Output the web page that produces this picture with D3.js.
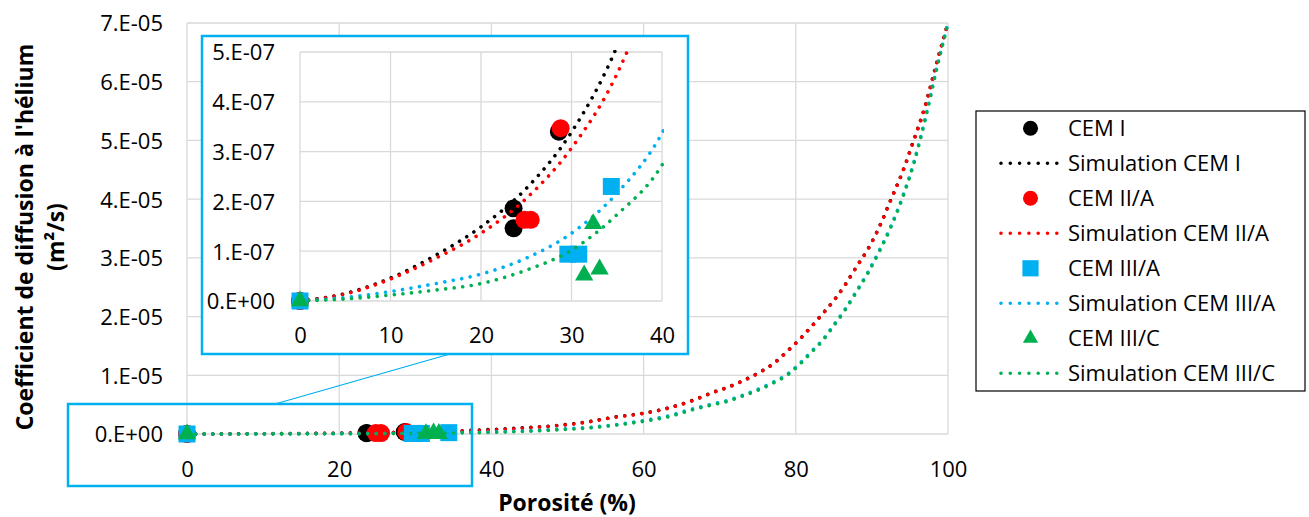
<!DOCTYPE html>
<html>
<head>
<meta charset="utf-8">
<script src="https://cdn.jsdelivr.net/npm/d3@7"></script>
<style>
  body { margin: 0; background: #fff; }
  text { font-family: 'Open Sans', sans-serif; fill: #000; }
</style>
</head>
<body>
<svg id="chart" width="1309" height="517"></svg>
<script>
// ---------- DATA ----------
const xTicksMain = [0, 20, 40, 60, 80, 100];
const yTicksMain = [0, 1e-5, 2e-5, 3e-5, 4e-5, 5e-5, 6e-5, 7e-5];
const xTicksInset = [0, 10, 20, 30, 40];
const yTicksInset = [0, 1e-7, 2e-7, 3e-7, 4e-7, 5e-7];

// Measured points (porosity %, diffusion coefficient m²/s)
const cemI_x = [0, 23.6, 23.6, 28.6];
const cemI_y = [0, 1.86e-7, 1.46e-7, 3.40e-7];
const cemIIA_x = [0, 24.8, 25.5, 28.8];
const cemIIA_y = [0, 1.63e-7, 1.63e-7, 3.47e-7];
const cemIIIA_x = [0, 29.6, 30.8, 34.4];
const cemIIIA_y = [0, 0.94e-7, 0.94e-7, 2.30e-7];
const cemIIIC_x = [0, 31.4, 32.4, 33.1];
const cemIIIC_y = [0, 0.52e-7, 1.55e-7, 0.64e-7];

// Simulations
const simPorosity = [0, 5, 10, 15, 20, 25, 30, 35, 40, 45, 49, 53, 56, 60, 63, 66.5, 69, 71, 73, 75, 77, 79, 80.5, 82, 83.5, 85, 86.5, 88, 89.5, 91, 92.5, 94, 95.5, 97, 98.5, 100];
const simCEMI =    [0, 1.5e-8, 4.6e-8, 9.2e-8, 1.49e-7, 2.26e-7, 3.39e-7, 5.1e-7, 7.7e-7,
  1.12e-6, 1.5e-6, 2.15e-6, 2.85e-6, 3.55e-6, 4.35e-6, 5.75e-6, 7.05e-6, 7.95e-6, 9.05e-6, 1.035e-5, 1.195e-5, 1.425e-5, 1.615e-5, 1.825e-5, 2.045e-5, 2.275e-5, 2.545e-5, 2.855e-5, 3.155e-5, 3.535e-5, 3.995e-5, 4.455e-5, 5.005e-5, 5.585e-5, 6.315e-5, 7.0e-5];
const simCEMIIA =  [0, 1.4e-8, 4.4e-8, 8.6e-8, 1.36e-7, 2.06e-7, 3.07e-7, 4.55e-7, 6.9e-7,
  1.05e-6, 1.45e-6, 2.1e-6, 2.8e-6, 3.5e-6, 4.3e-6, 5.7e-6, 7.0e-6, 7.9e-6, 9.0e-6, 1.03e-5, 1.19e-5, 1.42e-5, 1.61e-5, 1.82e-5, 2.04e-5, 2.27e-5, 2.54e-5, 2.85e-5, 3.15e-5, 3.53e-5, 3.99e-5, 4.45e-5, 5.0e-5, 5.58e-5, 6.31e-5, 7.0e-5];
const simCEMIIIA = [0, 7e-9, 1.9e-8, 3.5e-8, 5.4e-8, 8.6e-8, 1.36e-7, 2.16e-7, 3.37e-7,
  5.5e-7, 8.3e-7, 1.15e-6, 1.55e-6, 2.3e-6, 3.0e-6, 4.3e-6, 5.1e-6, 5.7e-6, 6.6e-6, 7.6e-6, 8.8e-6, 1.03e-5, 1.20e-5, 1.40e-5, 1.60e-5, 1.86e-5, 2.13e-5, 2.44e-5, 2.76e-5, 3.13e-5, 3.54e-5, 4.03e-5, 4.62e-5, 5.37e-5, 6.22e-5, 7.0e-5];
const simCEMIIIC = [0, 4e-9, 1.2e-8, 2.2e-8, 3.5e-8, 6.2e-8, 1.02e-7, 1.73e-7, 2.73e-7,
  4.7e-7, 7.3e-7, 1.05e-6, 1.45e-6, 2.15e-6, 2.85e-6, 4.15e-6, 4.95e-6, 5.55e-6, 6.45e-6, 7.45e-6, 8.65e-6, 1.015e-5, 1.185e-5, 1.385e-5, 1.585e-5, 1.845e-5, 2.115e-5, 2.425e-5, 2.745e-5, 3.115e-5, 3.525e-5, 4.015e-5, 4.605e-5, 5.355e-5, 6.205e-5, 7.0e-5];

const legendLabels = ["CEM I", "Simulation CEM I", "CEM II/A", "Simulation CEM II/A", "CEM III/A", "Simulation CEM III/A", "CEM III/C", "Simulation CEM III/C"];
const xTitle = "Porosité (%)";
const yTitle1 = "Coefficient de diffusion à l'hélium";
const yTitle2 = "(m²/s)";

// ---------- SETUP ----------
const colors = { I: "#000000", IIA: "#ff0000", IIIA: "#00b0f0", IIIC: "#00b050" };
const zip = (xs, ys) => xs.map((x, i) => ({ x, y: ys[i] }));
const series = [
  { type: "pts", data: zip(cemI_x, cemI_y), color: colors.I, sym: d3.symbolCircle },
  { type: "line", data: zip(simPorosity, simCEMI), color: colors.I },
  { type: "pts", data: zip(cemIIA_x, cemIIA_y), color: colors.IIA, sym: d3.symbolCircle },
  { type: "line", data: zip(simPorosity, simCEMIIA), color: colors.IIA },
  { type: "pts", data: zip(cemIIIA_x, cemIIIA_y), color: colors.IIIA, sym: d3.symbolSquare },
  { type: "line", data: zip(simPorosity, simCEMIIIA), color: colors.IIIA },
  { type: "pts", data: zip(cemIIIC_x, cemIIIC_y), color: colors.IIIC, sym: d3.symbolTriangle },
  { type: "line", data: zip(simPorosity, simCEMIIIC), color: colors.IIIC },
];
const symSize = s => s === d3.symbolCircle ? 254 : s === d3.symbolSquare ? 289 : 145;
const legSymSize = s => s === d3.symbolCircle ? 177 : s === d3.symbolSquare ? 262 : 100;

function excelExp(v) {
  if (v === 0) return "0.E+00";
  const e = Math.floor(Math.log10(Math.abs(v)) + 1e-9);
  const m = Math.round(v / Math.pow(10, e));
  const sign = e < 0 ? "-" : "+";
  return m + ".E" + sign + String(Math.abs(e)).padStart(2, "0");
}

const svg = d3.select("#chart");
const gridColor = "#d9d9d9";
const FS = 22;

function drawPanel(g, x, y, xTicks, yTicks, opts) {
  g.append("g").selectAll("line").data(xTicks).join("line")
    .attr("x1", d => x(d)).attr("x2", d => x(d))
    .attr("y1", y.range()[0]).attr("y2", y.range()[1])
    .attr("stroke", gridColor).attr("stroke-width", 1.3);
  g.append("g").selectAll("line").data(yTicks).join("line")
    .attr("y1", d => y(d)).attr("y2", d => y(d))
    .attr("x1", x.range()[0]).attr("x2", x.range()[1])
    .attr("stroke", gridColor).attr("stroke-width", 1.3);
  const ax = g.append("g").attr("transform", `translate(0,${y.range()[0]})`)
    .call(d3.axisBottom(x).tickValues(xTicks).tickSize(0).tickPadding(opts.xPad).tickFormat(d3.format("d")));
  ax.select(".domain").remove();
  ax.selectAll("text").attr("font-size", FS).attr("font-family", "'Open Sans', sans-serif").attr("fill", "#000");
  const ay = g.append("g").attr("transform", `translate(${x.range()[0]},0)`)
    .call(d3.axisLeft(y).tickValues(yTicks).tickSize(0).tickPadding(opts.yPad).tickFormat(excelExp));
  ay.select(".domain").remove();
  ay.selectAll("text").attr("font-size", FS).attr("font-family", "'Open Sans', sans-serif").attr("fill", "#000").attr("dy", "0.36em");
}

function drawSeries(g, x, y, clipId) {
  const line = d3.line().x(d => x(d.x)).y(d => y(d.y)).curve(d3.curveMonotoneX);
  const sg = g.append("g");
  if (clipId) sg.attr("clip-path", `url(#${clipId})`);
  series.forEach(s => {
    if (s.type === "line") {
      sg.append("path").datum(s.data).attr("d", line)
        .attr("fill", "none").attr("stroke", s.color).attr("stroke-width", 3.6)
        .attr("stroke-linecap", "round").attr("stroke-dasharray", "0.001 8.6");
    } else {
      sg.append("g").selectAll("path").data(s.data).join("path")
        .attr("transform", d => `translate(${x(d.x)},${y(d.y)})`)
        .attr("d", d3.symbol().type(s.sym).size(symSize(s.sym)))
        .attr("fill", s.color);
    }
  });
}

// ---------- MAIN CHART ----------
const xMain = d3.scaleLinear().domain([0, 100]).range([187, 948]);
const yMain = d3.scaleLinear().domain([0, 7e-5]).range([434, 23]);
const main = svg.append("g");
drawPanel(main, xMain, yMain, xTicksMain, yTicksMain, { xPad: 27, yPad: 24 });
drawSeries(main, xMain, yMain, null);

svg.append("text").attr("x", 567).attr("y", 511).attr("text-anchor", "middle")
  .attr("font-size", 23).attr("font-weight", "bold").text(xTitle);
svg.append("text").attr("transform", "translate(33,237) rotate(-90)").attr("text-anchor", "middle")
  .attr("font-size", 23).attr("font-weight", "bold").text(yTitle1);
svg.append("text").attr("transform", "translate(64,237) rotate(-90)").attr("text-anchor", "middle")
  .attr("font-size", 23).attr("font-weight", "bold").text(yTitle2);

// zoom annotation
svg.append("rect").attr("x", 68).attr("y", 404).attr("width", 404).attr("height", 82)
  .attr("fill", "none").attr("stroke", "#00b0f0").attr("stroke-width", 2.5);
svg.append("line").attr("x1", 275).attr("y1", 404).attr("x2", 450).attr("y2", 354)
  .attr("stroke", "#00b0f0").attr("stroke-width", 1.2);

// ---------- INSET ----------
const inset = svg.append("g");
inset.append("rect").attr("x", 202).attr("y", 36).attr("width", 486).attr("height", 318)
  .attr("fill", "#fff").attr("stroke", "#00b0f0").attr("stroke-width", 2.5);
const xIn = d3.scaleLinear().domain([0, 40]).range([300, 662]);
const yIn = d3.scaleLinear().domain([0, 5e-7]).range([301, 52]);
svg.append("defs").append("clipPath").attr("id", "insetClip").append("rect")
  .attr("x", 300 - 12).attr("y", 52 - 2).attr("width", 362 + 14).attr("height", 249 + 14);
drawPanel(inset, xIn, yIn, xTicksInset, yTicksInset, { xPad: 26, yPad: 25 });
drawSeries(inset, xIn, yIn, "insetClip");

// ---------- LEGEND ----------
const leg = svg.append("g");
leg.append("rect").attr("x", 976).attr("y", 111).attr("width", 329).attr("height", 280)
  .attr("fill", "#fff").attr("stroke", "#000").attr("stroke-width", 1.2);
legendLabels.forEach((lab, i) => {
  const s = series[i];
  const cy = 128.3 + i * 35;
  if (s.type === "line") {
    leg.append("line").attr("x1", 1001).attr("x2", 1058).attr("y1", cy).attr("y2", cy)
      .attr("stroke", s.color).attr("stroke-width", 3.6).attr("stroke-linecap", "round")
      .attr("stroke-dasharray", "0.001 9.3");
  } else {
    leg.append("path").attr("transform", `translate(1030.5,${cy})`)
      .attr("d", d3.symbol().type(s.sym).size(legSymSize(s.sym))).attr("fill", s.color);
  }
  leg.append("text").attr("x", 1068).attr("y", cy).attr("dy", "0.36em")
    .attr("font-size", FS).text(lab);
});
</script>
</body>
</html>
